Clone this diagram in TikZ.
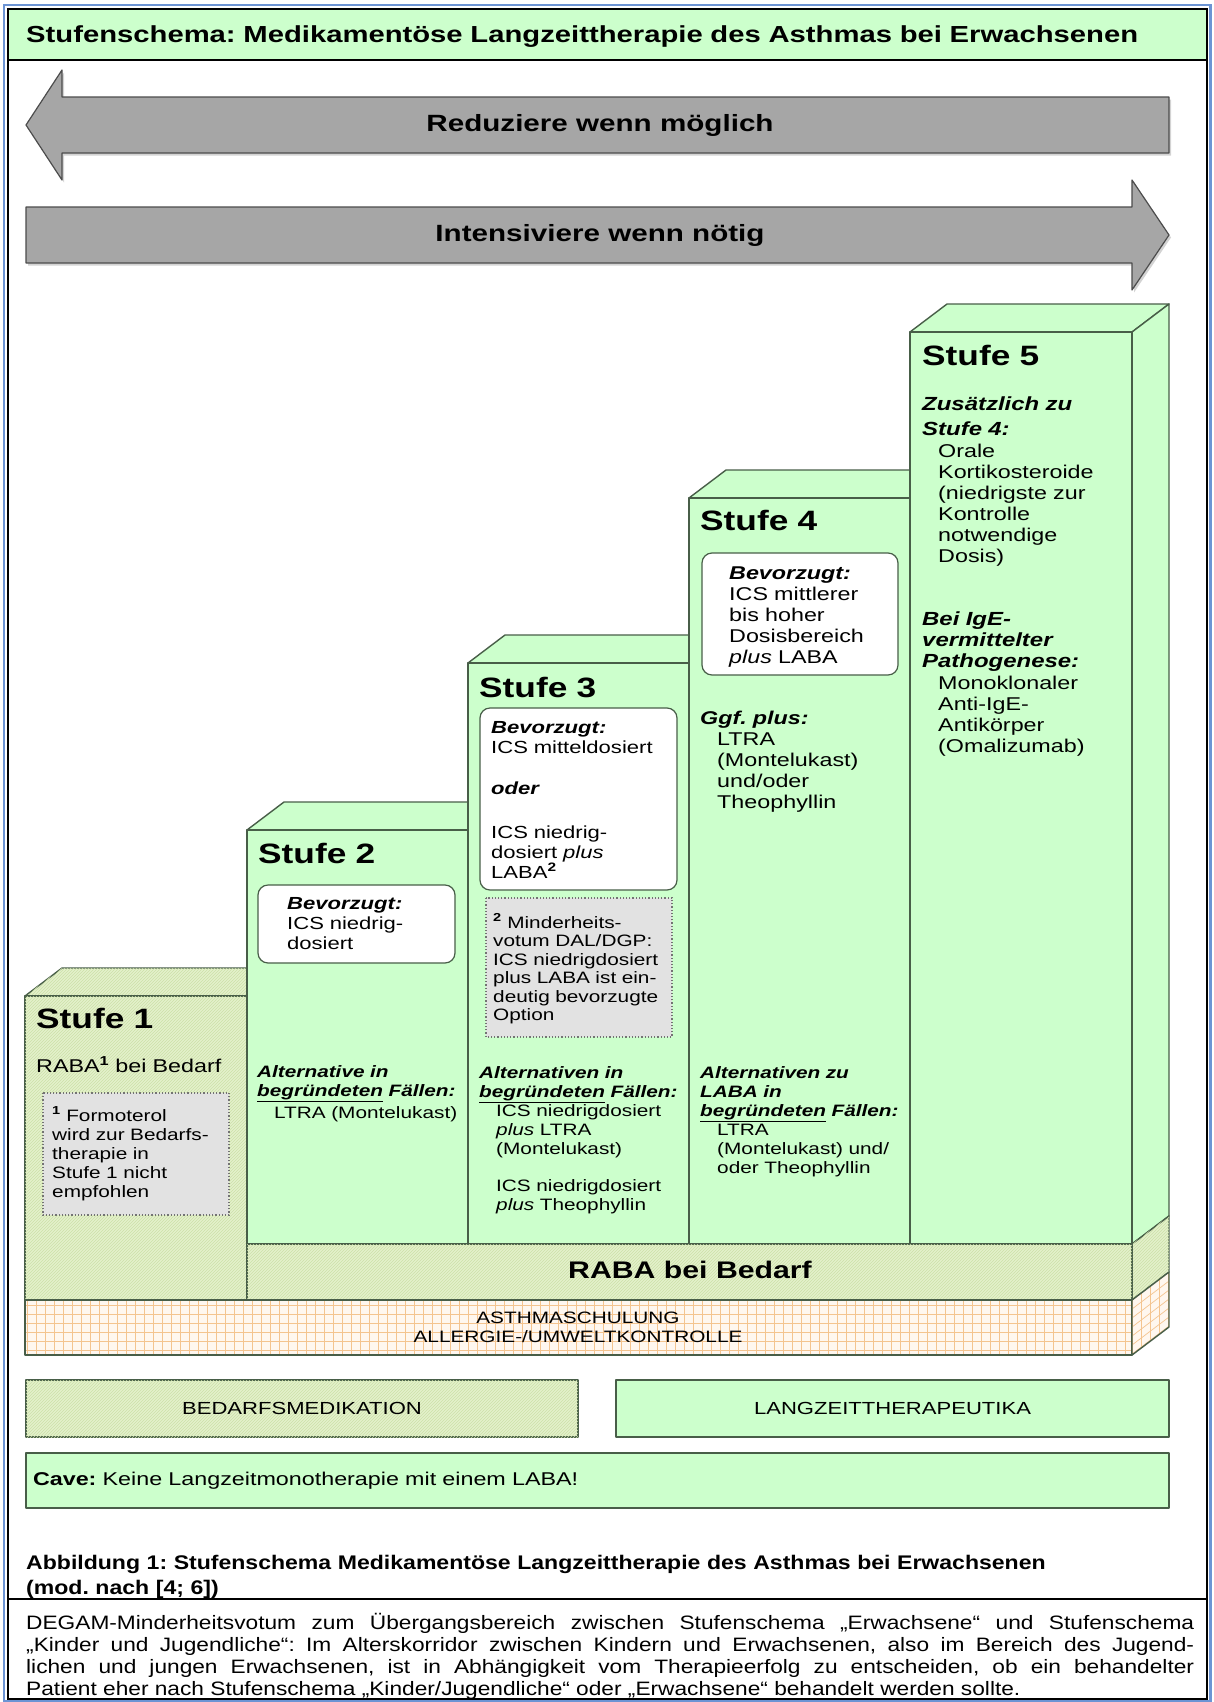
\documentclass[tikz,border=0pt]{standalone}
\usepackage{fontspec}
\setmainfont{Liberation Sans}[FakeStretch=1.26]
\newfontfamily\captfont{Liberation Sans}[FakeStretch=1.17]
\usetikzlibrary{patterns}
\usetikzlibrary{shadows}
\frenchspacing

\definecolor{ltzgreen}{HTML}{CCFFCC}
\definecolor{bedgreen}{HTML}{E3F1CB}
\definecolor{hatchgreen}{HTML}{CDE0A8}
\definecolor{edgegreen}{HTML}{485E48}
\definecolor{arrowgray}{HTML}{A6A6A6}
\definecolor{notegray}{HTML}{E2E2E2}
\definecolor{gridorange}{HTML}{F4C48F}
\definecolor{peach}{HTML}{FFF7EF}
\definecolor{frameblue}{HTML}{6C94D4}

\newcommand\fsbody{\fontsize{16.5}{19}\selectfont}
\newcommand\fsmid{\fontsize{17.5}{20}\selectfont}
\newcommand\fsbig{\fontsize{18.5}{21}\selectfont}
\newcommand\fshead{\fontsize{28}{32}\selectfont\bfseries}
\newcommand\boldit[1]{\textbf{\textit{#1}}}

\begin{document}
\begin{tikzpicture}[x=1pt,y=-1pt,
    face/.style={draw=edgegreen, line width=1.4pt, line join=round},
    ltz/.style={face, fill=ltzgreen},
    bed/.style={face, fill=bedgreen, postaction={pattern=north east lines, pattern color=hatchgreen}},
    arrowbar/.style={draw=black!70, line width=1.2pt, fill=arrowgray, line join=round,
        drop shadow={shadow xshift=2pt, shadow yshift=-2.5pt, opacity=0.35}},
    prefbox/.style={draw=edgegreen, line width=1.2pt, fill=white, rounded corners=10pt},
    notebox/.style={draw=black!55, dotted, line width=1.2pt, fill=notegray},
    txt/.style={anchor=base west, inner sep=0pt, text width=270pt, align=left, font=\fsbody},
    head/.style={txt, font=\fshead},
  ]
\useasboundingbox (0,0) rectangle (1214,1702);

% frame and title band
\fill[ltzgreen] (8,9) rectangle (1207,60);
\draw[line width=1.2pt] (8,9) rectangle (1207,1699) (8,60) -- (1207,60) (8,1599) -- (1207,1599);
\draw[frameblue, line width=2.5pt] (4,5) rectangle (1210.5,1701);
\node[txt, text width=1170pt, font=\fontsize{23.2}{26}\selectfont\bfseries] (title) at (26,43)
    {Stufenschema: Medikamentöse Langzeittherapie des Asthmas bei Erwachsenen};

% arrows
\draw[arrowbar] (26,125) -- (62,70) -- (62,97) -- (1169,97) -- (1169,153)
    -- (62,153) -- (62,180) -- cycle;
\node[font=\fontsize{23.5}{26}\selectfont\bfseries] (reduce) at (600,125) {Reduziere wenn möglich};
\draw[arrowbar] (26,207) -- (1132,207) -- (1132,180) -- (1169,235) -- (1132,290)
    -- (1132,263) -- (26,263) -- cycle;
\node[font=\fontsize{23.5}{26}\selectfont\bfseries] (intens) at (600,235) {Intensiviere wenn nötig};

% top and side faces
\draw[bed] (25,996) -- (62,968) -- (247,968) -- (247,996) -- cycle;
\draw[ltz] (247,830) -- (284,802) -- (468,802) -- (468,830) -- cycle;
\draw[ltz] (468,663) -- (505,635) -- (689,635) -- (689,663) -- cycle;
\draw[ltz] (689,498) -- (726,470) -- (910,470) -- (910,498) -- cycle;
\draw[ltz] (910,332) -- (947,304) -- (1169,304) -- (1132,332) -- cycle;
\draw[ltz] (1132,332) -- (1169,304) -- (1169,1216) -- (1132,1244) -- cycle;
\draw[bed] (1132,1244) -- (1169,1216) -- (1169,1272) -- (1132,1300) -- cycle;

% front faces
\draw[bed] (25,996) rectangle (247,1300);
\draw[ltz] (247,830) rectangle (468,1244);
\draw[ltz] (468,663) rectangle (689,1244);
\draw[ltz] (689,498) rectangle (910,1244);
\draw[ltz] (910,332) rectangle (1132,1244);
\draw[bed] (247,1244) rectangle (1132,1300);

% base band with grid
\fill[peach] (25,1300) rectangle (1132,1355);
\begin{scope}
  \clip (25,1300) rectangle (1132,1355);
  \draw[gridorange, line width=0.7pt, step=9pt] (20,1295) grid (1140,1360);
\end{scope}
\draw[face] (25,1300) rectangle (1132,1355);
\begin{scope}
  \clip (1132,1300) -- (1169,1272) -- (1169,1327) -- (1132,1355) -- cycle;
  \fill[peach] (1130,1270) rectangle (1170,1356);
  \foreach \k in {0,9,...,36}
    \draw[gridorange, line width=0.7pt] (1132+\k,1260) -- (1132+\k,1360);
  \foreach \k in {-36,-27,...,63}
    \draw[gridorange, line width=0.7pt] (1132,1300+\k) -- (1169,1272+\k);
\end{scope}
\draw[face] (1132,1300) -- (1169,1272) -- (1169,1327) -- (1132,1355) -- cycle;

% Stufe 1
\node[head] (s1) at (36,1028) {Stufe 1};
\node[txt, font=\fsbig] (raba1) at (36,1072) {RABA\textsuperscript{\textbf{1}} bei Bedarf};
\draw[notebox] (43,1093) rectangle (229,1215);
\node[txt] (note1) at (52,1121) {\textsuperscript{\textbf{1}} Formoterol\\wird zur Bedarfs-\\therapie in\\Stufe 1 nicht\\empfohlen};

% Stufe 2
\node[head] (s2) at (258,863) {Stufe 2};
\draw[prefbox] (258,885) rectangle (455,963);
\node[txt, font=\fsmid] (pref2) at (287,909) {\boldit{Bevorzugt:}\\ICS niedrig-\\dosiert};
\node[txt] (alt2) at (257,1077) {\boldit{Alternative in}\\\boldit{\underline{begründeten} Fällen:}\\[3pt]\hspace*{17pt}LTRA (Montelukast)};

% Stufe 3
\node[head] (s3) at (479,697) {Stufe 3};
\draw[prefbox] (480,708) rectangle (677,890);
\node[txt, font=\fsmid] (pref3) at (491,733) {\boldit{Bevorzugt:}\\ICS mitteldosiert\\[21pt]\boldit{oder}\\[24pt]ICS niedrig-\\dosiert \textit{plus}\\LABA\textsuperscript{\textbf{2}}};
\draw[notebox] (486,898) rectangle (672,1037);
\node[txt, font=\fontsize{16.5}{18.5}\selectfont] (note2) at (493,928) {\textsuperscript{\textbf{2}} Minderheits-\\votum DAL/DGP:\\ICS niedrigdosiert\\plus LABA ist ein-\\deutig bevorzugte\\Option};
\node[txt] (alt3) at (479,1078) {\boldit{Alternativen in}\\\boldit{\underline{begründeten} Fällen:}\\\hspace*{17pt}ICS niedrigdosiert\\\hspace*{17pt}\textit{plus} LTRA\\\hspace*{17pt}(Montelukast)\\[18pt]\hspace*{17pt}ICS niedrigdosiert\\\hspace*{17pt}\textit{plus} Theophyllin};

% Stufe 4
\node[head] (s4) at (700,530) {Stufe 4};
\draw[prefbox] (702,553) rectangle (898,675);
\node[txt, font=\fsbig] (pref4) at (729,579) {\boldit{Bevorzugt:}\\ICS mittlerer\\bis hoher\\Dosisbereich\\\textit{plus} LABA};
\node[txt, font=\fsbig] (plus4) at (700,724) {\boldit{Ggf. plus:}\\\hspace*{17pt}LTRA\\\hspace*{17pt}(Montelukast)\\\hspace*{17pt}und/oder\\\hspace*{17pt}Theophyllin};
\node[txt] (alt4) at (700,1078) {\boldit{Alternativen zu}\\\boldit{LABA in}\\\boldit{\underline{begründeten} Fällen:}\\\hspace*{17pt}LTRA\\\hspace*{17pt}(Montelukast) und/\\\hspace*{17pt}oder Theophyllin};

% Stufe 5
\node[head] (s5) at (922,365) {Stufe 5};
\node[txt, font=\fontsize{19}{25}\selectfont] (add5) at (922,410) {\boldit{Zusätzlich zu}\\\boldit{Stufe 4:}};
\node[txt, font=\fsbig] (oral5) at (938,457) {Orale\\Kortikosteroide\\(niedrigste zur\\Kontrolle\\notwendige\\Dosis)};
\node[txt, font=\fontsize{19}{21}\selectfont] (ige5) at (922,625) {\boldit{Bei IgE-}\\\boldit{vermittelter}\\\boldit{Pathogenese:}};
\node[txt, font=\fsbig] (anti5) at (938,689) {Monoklonaler\\Anti-IgE-\\Antikörper\\(Omalizumab)};

% bands
\node[font=\fontsize{24}{28}\selectfont\bfseries] (raba) at (690,1270) {RABA bei Bedarf};
\node[align=center, font=\fsbody, inner sep=0pt] (schulung) at (578,1327) {ASTHMASCHULUNG\\ALLERGIE-/UMWELTKONTROLLE};

% legend
\node[bed, minimum width=552pt, minimum height=57pt, font=\fontsize{17.5}{20}\selectfont] (bedarf) at (302,1408.5) {BEDARFSMEDIKATION};
\node[ltz, minimum width=553pt, minimum height=57pt, font=\fontsize{17.5}{20}\selectfont] (langzeit) at (892.5,1408.5) {LANGZEITTHERAPEUTIKA};
\node[ltz, minimum width=1143pt, minimum height=55pt, inner sep=0pt, text width=1129pt, align=left, font=\fsbig] (cave) at (597.5,1480.5) {\textbf{Cave:} Keine Langzeitmonotherapie mit einem LABA!};

% caption and note
\node[txt, text width=1170pt, font=\captfont\fontsize{19.7}{25}\selectfont\bfseries] (caption) at (26,1569)
    {Abbildung 1: Stufenschema Medikamentöse Langzeittherapie des Asthmas bei Erwachsenen\\(mod. nach [4; 6])};
\node[anchor=base west, inner sep=0pt, text width=1168pt, align=justify,
    font=\captfont\fontsize{19.4}{22}\selectfont] (degam) at (26,1629)
    {DEGAM-Minderheitsvotum zum Übergangsbereich zwischen Stufenschema „Erwachsene“ und Stufenschema\linebreak
     „Kinder und Jugendliche“: Im Alterskorridor zwischen Kindern und Erwachsenen, also im Bereich des Jugend-\linebreak
     lichen und jungen Erwachsenen, ist in Abhängigkeit vom Therapieerfolg zu entscheiden, ob ein behandelter\linebreak
     Patient eher nach Stufenschema „Kinder/Jugendliche“ oder „Erwachsene“ behandelt werden sollte.};

\end{tikzpicture}
\end{document}
